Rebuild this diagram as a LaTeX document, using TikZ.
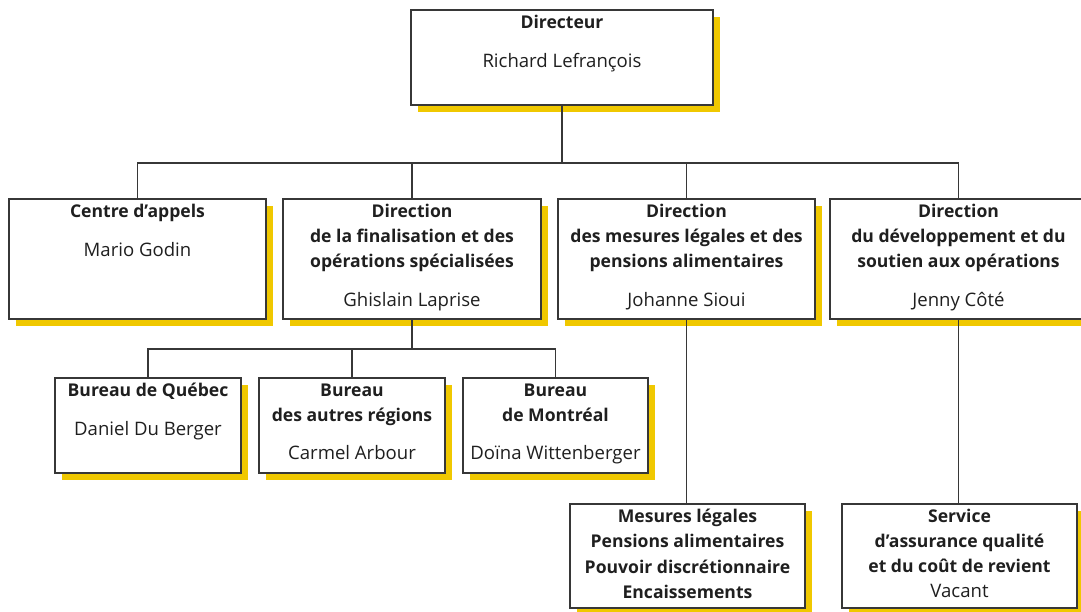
\documentclass[tikz,border=0pt]{standalone}
\usepackage{fontspec}
\setmainfont{Open Sans}
\usepackage{xcolor}
\usetikzlibrary{shadows}
\definecolor{ombre}{RGB}{240,200,0}
\definecolor{trait}{RGB}{55,55,55}
\newcommand{\nom}[1]{{\fontsize{13.2}{17.8}\selectfont #1}}

\begin{document}
\begin{tikzpicture}[x=0.025cm, y=-0.025cm,
            boite/.style = {rectangle, draw=trait, line width=1.1pt, fill=white,
                drop shadow={shadow xshift=0.18cm, shadow yshift=-0.18cm,
                    fill=ombre, opacity=1}},
            texte/.style = {anchor=north, inner sep=0pt, align=center,
                text=black!88, font=\fontsize{12.5}{17.8}\selectfont},
            lien/.style = {draw=trait, line width=1pt}]

        \useasboundingbox (0,0) rectangle (1081,612);

        % Directeur
        \node[boite, minimum width=7.55cm, minimum height=2.375cm] (dir) at (562,57.5) {};
        \node[texte] (dirtxt) at ([yshift=-0.15cm]dir.north)
            {\textbf{Directeur}\\[0.33cm]\nom{Richard Lefrançois}};

        % Directions
        \node[boite, minimum width=6.425cm, minimum height=3cm] (cen) at (137.5,259) {};
        \node[texte] (centxt) at ([yshift=-0.15cm]cen.north)
            {\textbf{Centre d’appels}\\[0.33cm]\nom{Mario Godin}};

        \node[boite, minimum width=6.45cm, minimum height=3cm] (fin) at (412,259) {};
        \node[texte] (fintxt) at ([yshift=-0.15cm]fin.north)
            {\textbf{Direction}\\\textbf{de la finalisation et des}\\\textbf{opérations spécialisées}\\[0.33cm]\nom{Ghislain Laprise}};

        \node[boite, minimum width=6.425cm, minimum height=3cm] (mes) at (686.5,259) {};
        \node[texte] (mestxt) at ([yshift=-0.15cm]mes.north)
            {\textbf{Direction}\\\textbf{des mesures légales et des}\\\textbf{pensions alimentaires}\\[0.33cm]\nom{Johanne Sioui}};

        \node[boite, minimum width=6.425cm, minimum height=3cm] (dev) at (958.5,259) {};
        \node[texte] (devtxt) at ([yshift=-0.15cm]dev.north)
            {\textbf{Direction}\\\textbf{du développement et du}\\\textbf{soutien aux opérations}\\[0.33cm]\nom{Jenny Côté}};

        % Bureaux
        \node[boite, minimum width=4.65cm, minimum height=2.375cm] (queb) at (148,425.5) {};
        \node[texte] (quebtxt) at ([yshift=-0.15cm]queb.north)
            {\textbf{Bureau de Québec}\\[0.33cm]\nom{Daniel Du Berger}};

        \node[boite, minimum width=4.65cm, minimum height=2.375cm] (aut) at (352,425.5) {};
        \node[texte] (auttxt) at ([yshift=-0.15cm]aut.north)
            {\textbf{Bureau}\\\textbf{des autres régions}\\[0.33cm]\nom{Carmel Arbour}};

        \node[boite, minimum width=4.625cm, minimum height=2.375cm] (mon) at (555.5,425.5) {};
        \node[texte] (montxt) at ([yshift=-0.15cm]mon.north)
            {\textbf{Bureau}\\\textbf{de Montréal}\\[0.33cm]\nom{Doïna Wittenberger}};

        % Services
        \node[boite, minimum width=5.875cm, minimum height=2.6cm] (leg) at (687.5,556) {};
        \node[texte] (legtxt) at ([yshift=-0.15cm]leg.north)
            {\textbf{Mesures légales}\\\textbf{Pensions alimentaires}\\\textbf{Pouvoir discrétionnaire}\\\textbf{Encaissements}};

        \node[boite, minimum width=5.875cm, minimum height=2.6cm] (qual) at (959.5,556) {};
        \node[texte] (qualtxt) at ([yshift=-0.15cm]qual.north)
            {\textbf{Service}\\\textbf{d’assurance qualité}\\\textbf{et du coût de revient}\\\nom{Vacant}};

        % Liens
        \coordinate (j1) at (562,163);
        \coordinate (j2) at (412,349);
        \draw[lien] (dir.south) -- (j1);
        \foreach \n in {cen,fin,mes,dev}
            \draw[lien] (\n.north) |- (j1);
        \draw[lien] (fin.south) -- (j2);
        \foreach \n in {queb,aut,mon}
            \draw[lien] (\n.north) |- (j2);
        \draw[lien] (mes.south) -- (mes.south |- leg.north);
        \draw[lien] (dev.south) -- (dev.south |- qual.north);

\end{tikzpicture}
\end{document}
